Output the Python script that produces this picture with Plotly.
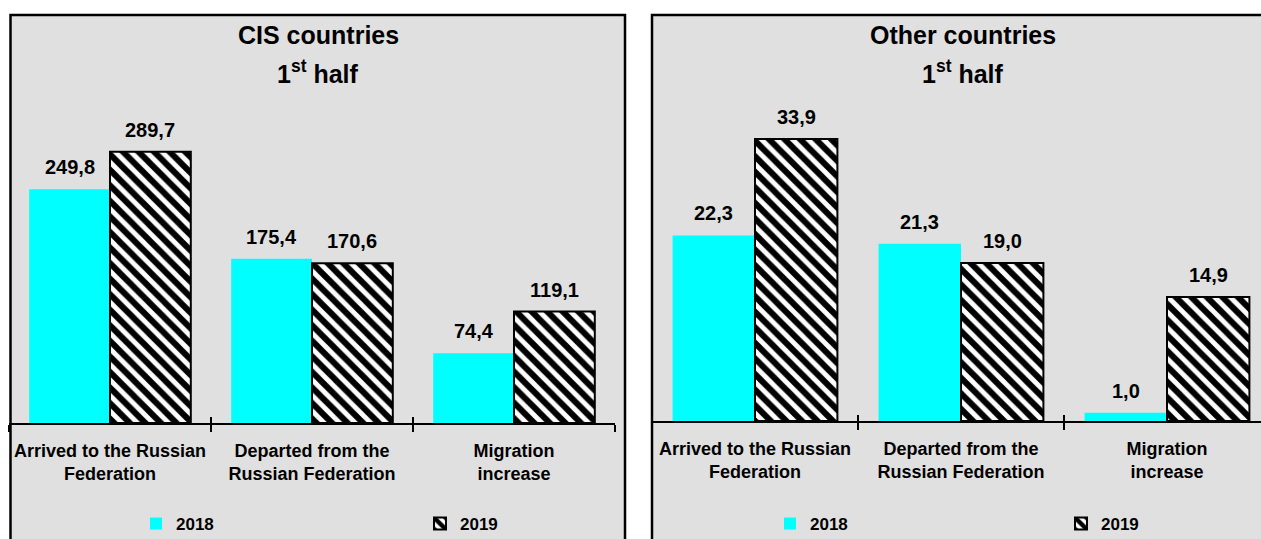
import plotly.graph_objects as go

# ---- data ----
categories = ["Arrived to the Russian<br>Federation",
              "Departed from the<br>Russian Federation",
              "Migration<br>increase"]
years = ["2018", "2019"]
cis_2018 = [249.8, 175.4, 74.4]
cis_2019 = [289.7, 170.6, 119.1]
other_2018 = [22.3, 21.3, 1.0]
other_2019 = [33.9, 19.0, 14.9]
panel_titles = ["CIS countries", "Other countries"]
subtitle = "1<sup>st</sup> half"

# ---- styling ----
W, H = 1261, 539
FONT = "Arial, 'Liberation Sans', sans-serif"
CYAN = "#00FFFF"
GRAY = "#E0E0E0"


def px(p):
    return min(1.0, max(0.0, p / W))


def py(p):
    return min(1.0, max(0.0, 1 - p / H))


panels = [
    dict(a=cis_2018, b=cis_2019, xa="x", ya="y", xo="x3", lg="legend", title=panel_titles[0],
         xdom=(9, 615), axis_y=423, scale=0.936, xmax=2.5, cx=318,
         box=(10.5, 625), right_border=True, lgx=136, ew=239),
    dict(a=other_2018, b=other_2019, xa="x2", ya="y2", xo="x4", lg="legend2", title=panel_titles[1],
         xdom=(652, W), axis_y=421, scale=8.32, xmax=-0.5 + (W - 652) / 206.0, cx=963,
         box=(652, W), right_border=False, lgx=770, ew=246),
]

fig = go.Figure()
shapes = []
annotations = []
TOP = 100

for i, p in enumerate(panels):
    fig.add_trace(go.Bar(
        x=categories, y=p["a"], name=years[0], xaxis=p["xa"], yaxis=p["ya"],
        legend=p["lg"], marker=dict(color=CYAN, line=dict(width=0)),
        hoverinfo="skip"))
    fig.add_trace(go.Bar(
        x=categories, y=p["b"], name=years[1], xaxis=p["xa"], yaxis=p["ya"],
        legend=p["lg"],
        marker=dict(color="white", line=dict(color="black", width=2),
                    pattern=dict(shape="\\", fgcolor="black", bgcolor="white",
                                 fgopacity=1, size=11, solidity=0.55)),
        hoverinfo="skip"))
    # invisible carrier so the overlay axis can draw the upper half of the ticks
    fig.add_trace(go.Scatter(
        x=categories, y=p["a"], mode="none", xaxis=p["xo"], yaxis=p["ya"],
        showlegend=False, hoverinfo="skip"))

    sfx = "" if i == 0 else "2"
    osfx = p["xo"][1:]
    dom = [px(p["xdom"][0]), px(p["xdom"][1])]
    fig.update_layout(**{
        "xaxis" + sfx: dict(
            domain=dom,
            type="category", range=[-0.5, p["xmax"]], anchor="y" + sfx,
            showline=True, linecolor="black", linewidth=2,
            ticks="outside", ticklen=7, tickwidth=1.5, tickcolor="black",
            tickson="boundaries", showgrid=False, zeroline=False, tickangle=0,
            ticklabelstandoff=10, automargin=False,
            tickfont=dict(family=FONT, size=18, color="black", weight="bold"),
            fixedrange=True),
        "xaxis" + osfx: dict(
            domain=dom, overlaying="x" + sfx,
            type="category", range=[-0.5, p["xmax"]], anchor="y" + sfx,
            showline=False, ticks="inside", ticklen=6, tickwidth=1.5,
            tickcolor="black", tickson="boundaries", showgrid=False,
            zeroline=False, showticklabels=False, automargin=False,
            fixedrange=True),
        "yaxis" + sfx: dict(
            domain=[py(p["axis_y"]), py(TOP)],
            range=[0, (p["axis_y"] - TOP) / p["scale"]], anchor="x" + sfx,
            visible=False, fixedrange=True, automargin=False),
    })

    # panel box: fill + open border (no bottom edge; right edge only if visible)
    x0, x1 = px(p["box"][0]), px(p["box"][1])
    yt, yb = py(15), 0.0
    shapes.append(dict(type="rect", xref="paper", yref="paper",
                       x0=x0, x1=x1, y0=yb, y1=yt,
                       fillcolor=GRAY, line=dict(width=0), layer="below"))
    path = f"M {x0},{yb} L {x0},{yt} L {x1},{yt}"
    if p["right_border"]:
        path += f" L {x1},{yb}"
    shapes.append(dict(type="path", xref="paper", yref="paper", path=path,
                       line=dict(color="black", width=2.5), layer="below"))

    # titles
    for txt, ypix in ((p["title"], 35), (subtitle, 72)):
        annotations.append(dict(text=txt, xref="paper", yref="paper",
                                x=px(p["cx"]), y=py(ypix), showarrow=False,
                                xanchor="center", yanchor="middle",
                                font=dict(family=FONT, size=25, color="black", weight="bold")))

    # value labels
    for j in range(len(categories)):
        for off, vals in ((-0.2, p["a"]), (0.2, p["b"])):
            annotations.append(dict(
                text=f"{vals[j]:.1f}".replace(".", ","),
                xref=p["xa"], yref=p["ya"], x=j + off, y=vals[j],
                showarrow=False, xanchor="center", yanchor="bottom", yshift=9,
                font=dict(family=FONT, size=20, color="black", weight="bold")))

    fig.update_layout(**{
        p["lg"]: dict(orientation="h", x=px(p["lgx"]), y=py(524),
                      xanchor="left", yanchor="middle",
                      bgcolor="rgba(0,0,0,0)", borderwidth=0,
                      entrywidth=p["ew"], entrywidthmode="pixels",
                      traceorder="normal",
                      font=dict(family=FONT, size=17, color="black", weight="bold"))
    })

fig.update_layout(
    width=W, height=H, autosize=False,
    margin=dict(l=0, r=0, t=0, b=0, pad=0, autoexpand=False),
    paper_bgcolor="white", plot_bgcolor="rgba(0,0,0,0)",
    barmode="group", bargap=0.2, bargroupgap=0,
    showlegend=True,
    shapes=shapes, annotations=annotations,
    font=dict(family=FONT, color="black"),
)

fig.write_html(
    "out.html",
    config={"displayModeBar": False},
    post_script="document.body.style.margin='0';document.body.style.overflow='hidden';",
)
